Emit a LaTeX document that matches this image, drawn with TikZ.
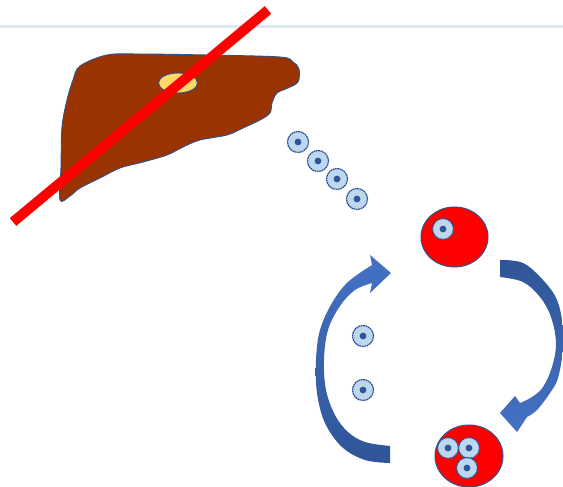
\documentclass[tikz,border=0pt]{standalone}
\usetikzlibrary{shapes.geometric}

\definecolor{liverbrown}{RGB}{153,51,0}
\definecolor{outlineblue}{RGB}{47,82,143}
\definecolor{gallyellow}{RGB}{255,217,102}
\definecolor{cellfill}{RGB}{189,215,238}
\definecolor{celldot}{RGB}{47,85,151}
\definecolor{arrowlight}{RGB}{68,114,196}
\definecolor{arrowdark}{RGB}{47,85,151}
\definecolor{ruleblue}{RGB}{222,229,243}

\tikzset{
  cell/.style={circle, draw=outlineblue, fill=cellfill, line width=1.2pt,
    dash pattern=on 1.8pt off 0.6pt, minimum size=21pt, inner sep=0pt,
    path picture={\fill[celldot] (path picture bounding box.center) circle (3.4pt);}},
  hostcell/.style={ellipse, draw=outlineblue, fill=red, line width=1pt,
    minimum width=67pt, minimum height=60pt, inner sep=0pt},
  bluearrow/.style={draw=none},
}

\begin{document}
\begin{tikzpicture}[x=1pt,y=-1pt]
\useasboundingbox (0,0) rectangle (563,487);
\clip (0,0) rectangle (563,487);
\fill[white] (0,0) rectangle (563,487);

% thin rule across the top
\draw[ruleblue, line width=3pt] (0,26.5) -- (563,26.5);

% liver
\filldraw[fill=liverbrown, draw=outlineblue, line width=0.9pt]
  plot[smooth cycle, tension=0.55] coordinates {
    (80,66) (107,55) (140,54) (207,55) (280,57) (293,62) (299,69) (298,82)
    (288,88) (277,93) (272,103) (270,113) (260,120) (243,128) (227,135)
    (200,140) (183,147) (167,155) (143,162) (120,168) (100,178) (80,188)
    (70,196) (60,200) (61,167) (62,127) (67,100) (73,80)};

% gallbladder
\filldraw[fill=gallyellow, draw=outlineblue, line width=0.9pt]
  (178,83) ellipse (19.5pt and 10pt);

% crossing-out line
\coordinate (xa) at (13,222);
\coordinate (xb) at (268,10);
\draw[red, line width=10pt] (xa) -- (xb);

% cells leaving the liver
\node[cell] (m1) at (298,142) {};
\node[cell] (m2) at (318,161) {};
\node[cell] (m3) at (337,179) {};
\node[cell] (m4) at (357,199) {};

% free cells inside the cycle
\node[cell] (f1) at (363,336) {};
\node[cell] (f2) at (363,390) {};

% infected host cells
\node[hostcell] (h1) at (454.5,237) {};
\node[cell] (h1a) at (443,229) {};

\node[hostcell, minimum width=68pt, minimum height=62pt] (h2) at (469,456) {};
\node[cell] (h2a) at (448,448) {};
\node[cell] (h2b) at (469,448) {};
\node[cell] (h2c) at (467,468) {};

% left curved arrow (upwards)
\shade[top color=arrowlight, bottom color=arrowdark, bluearrow]
  plot[smooth, tension=0.6] coordinates {
    (390,463) (365,460) (342,447) (325,423) (317,393) (316,360) (320,330)
    (332,303) (348,282) (372,265)}
  -- (370,255) -- (391,273) -- (370,293)
  -- plot[smooth, tension=0.6] coordinates {
    (372,283) (355,290) (340,306) (328,330) (324,360) (326,390) (335,415)
    (348,432) (365,442) (390,446)}
  -- cycle;

% right curved arrow (downwards)
\shade[top color=arrowdark, bottom color=arrowlight, bluearrow]
  plot[smooth, tension=0.6] coordinates {
    (500,260) (523,263) (543,280) (557,300) (563,327) (563,350) (558,378)
    (550,393) (537,410) (527,417)}
  -- (517,432) -- (500,413) -- (515,396)
  -- plot[smooth, tension=0.6] coordinates {
    (520,403) (532,397) (543,387) (552,367) (556,343) (551,317) (540,297)
    (523,282) (500,277)}
  -- cycle;
\end{tikzpicture}
\end{document}
